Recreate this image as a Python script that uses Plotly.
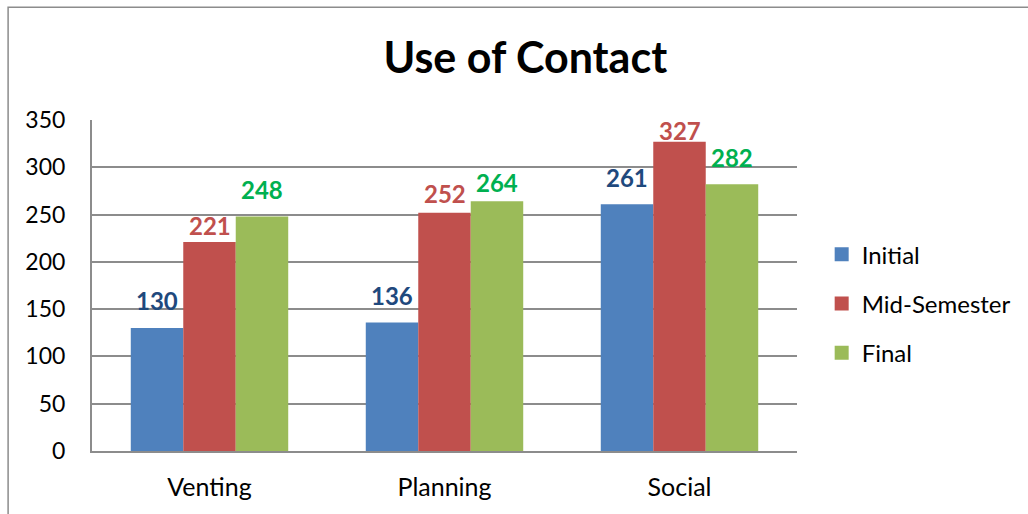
import plotly.graph_objects as go

categories = ["Venting", "Planning", "Social"]
series_names = ["Initial", "Mid-Semester", "Final"]
initial = [130, 136, 261]
mid_semester = [221, 252, 327]
final = [248, 264, 282]
y_ticks = [0, 50, 100, 150, 200, 250, 300, 350]

values = [initial, mid_semester, final]
bar_colors = ["#4F81BD", "#C0504D", "#9BBB59"]
label_colors = ["#1F497D", "#C0504D", "#00B050"]
# pixel offsets of the label centres above the bar tops (style)
label_offsets = [[28, 27, 27], [17, 19, 11], [27, 19, 27]]

FONT = "Lato"
bargap = 0.33
bar_w = (1 - bargap) / 3

fig = go.Figure()
for k, (name, vals) in enumerate(zip(series_names, values)):
    fig.add_trace(go.Bar(
        x=categories, y=vals, name=name,
        marker=dict(color=bar_colors[k], line=dict(width=0)),
        showlegend=False,
    ))
    for i, v in enumerate(vals):
        fig.add_annotation(
            x=i + (k - 1) * bar_w, y=v, xref="x", yref="y",
            text=f"<b>{v}</b>", showarrow=False,
            yanchor="middle", yshift=label_offsets[k][i],
            font=dict(family=FONT, size=24, color=label_colors[k]),
        )

# legend entries with larger square swatches
for k, name in enumerate(series_names):
    fig.add_trace(go.Scatter(
        x=[None], y=[None], mode="markers", name=name,
        marker=dict(symbol="square", size=14, color=bar_colors[k]),
        legendgroup=name, showlegend=True,
    ))

fig.add_shape(type="rect", xref="paper", yref="paper",
              x0=-0.119, x1=1.6, y0=-0.4, y1=1.341,
              line=dict(color="#8C8C8C", width=1.5), layer="below")

fig.update_layout(
    width=1028, height=514,
    margin=dict(l=92, r=227, t=120, b=63),
    paper_bgcolor="white", plot_bgcolor="white",
    barmode="group", bargap=bargap, bargroupgap=0,
    font=dict(family=FONT, size=24, color="black"),
    title=dict(text="<b>Use of Contact</b>", x=0.511, xref="container",
               xanchor="center", y=0.887, yanchor="middle",
               font=dict(family=FONT, size=43, color="black")),
    legend=dict(x=1.035, xanchor="left", y=0.445, yanchor="middle",
                font=dict(family=FONT, size=24, color="black"),
                tracegroupgap=15, itemwidth=30, bgcolor="rgba(0,0,0,0)"),
    showlegend=True,
)
fig.update_xaxes(type="category", showgrid=False, showline=True,
                 linecolor="#8C8C8C", linewidth=2, ticks="",
                 ticklabelstandoff=13, tickfont=dict(size=25))
fig.update_yaxes(range=[0, 350], tickvals=y_ticks, showgrid=True,
                 gridcolor="#8C8C8C", gridwidth=1.5, showline=True,
                 linecolor="#8C8C8C", linewidth=2, ticks="",
                 ticklabelstandoff=20, zeroline=False,
                 tickfont=dict(size=23))

fig.write_html("out.html", config={"displayModeBar": False},
               post_script="document.body.style.margin='0';document.body.style.overflow='hidden';")
